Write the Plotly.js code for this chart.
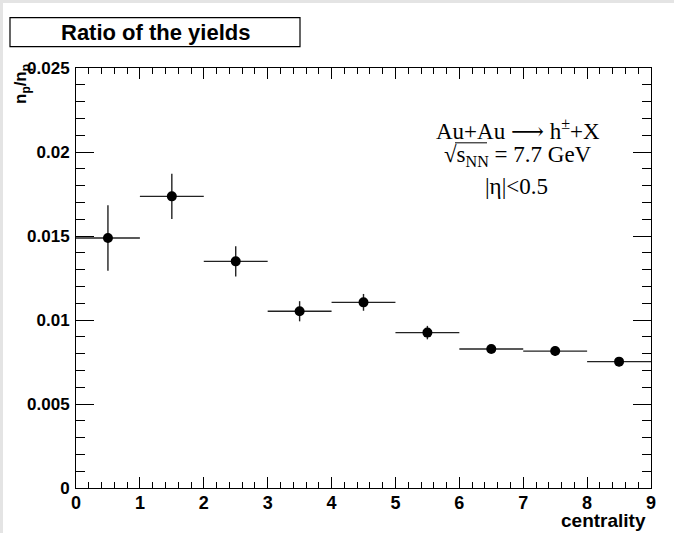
<!DOCTYPE html>
<html>
<head>
<meta charset="utf-8">
<script src="https://cdn.plot.ly/plotly-3.0.1.min.js"></script>
<style>
  html, body { margin: 0; padding: 0; background: #ffffff; }
  #chart { width: 674px; height: 533px; }
  .edgeL { position: absolute; left: 0; top: 0; width: 3px; height: 533px; background: #e4e4e4; z-index: 5; }
  .edgeT { position: absolute; left: 0; top: 0; width: 674px; height: 3px; background: #e4e4e4; z-index: 5; }
</style>
</head>
<body>
<div id="chart"></div>
<div class="edgeL"></div>
<div class="edgeT"></div>
<script>
// Data
const centrality = [0.5, 1.5, 2.5, 3.5, 4.5, 5.5, 6.5, 7.5, 8.5];
const ratio = [0.01488, 0.01736, 0.01349, 0.01052, 0.01105, 0.00925, 0.00827, 0.00815, 0.00752];
const ratioErr = [0.00195, 0.00135, 0.0009, 0.0006, 0.0005, 0.0004, 0.0002, 0.0003, 0.00027];
const binHalfWidth = [0.5, 0.5, 0.5, 0.5, 0.5, 0.5, 0.5, 0.5, 0.5];

const W = 575, H = 421;   // plot area size in px
const px = v => v / W;
const py = v => (488.5 - v) / H;

const trace = {
  x: centrality,
  y: ratio,
  type: 'scatter',
  mode: 'markers',
  marker: {color: '#000', size: 10, symbol: 'circle'},
  error_y: {type: 'data', array: ratioErr, visible: true, width: 0, thickness: 1.4, color: '#222'},
  error_x: {type: 'data', array: binHalfWidth, visible: true, width: 0, thickness: 1.4, color: '#222'},
  hoverinfo: 'x+y'
};

const serif = 'Liberation Serif, Times New Roman, serif';
const sans = 'Liberation Sans, Arial, sans-serif';

const layout = {
  width: 674,
  height: 533,
  margin: {l: 76, r: 23, t: 67.5, b: 44.5, pad: 0},
  paper_bgcolor: '#ffffff',
  plot_bgcolor: '#ffffff',
  showlegend: false,
  xaxis: {
    range: [0, 9],
    dtick: 1,
    tick0: 0,
    ticks: 'inside',
    ticklen: 11,
    tickwidth: 1,
    tickcolor: '#000',
    minor: {dtick: 0.2, ticks: 'inside', ticklen: 6, tickwidth: 1, tickcolor: '#000'},
    showline: true,
    linecolor: '#000',
    linewidth: 1,
    mirror: 'ticks',
    showgrid: false,
    zeroline: false,
    tickfont: {family: sans, size: 18, color: '#000', weight: 'bold'},
    ticklabelstandoff: -2
  },
  yaxis: {
    range: [0, 0.025],
    dtick: 0.005,
    tick0: 0,
    ticks: 'inside',
    ticklen: 18,
    tickwidth: 1,
    tickcolor: '#000',
    minor: {dtick: 0.001, ticks: 'inside', ticklen: 9, tickwidth: 1, tickcolor: '#000'},
    showline: true,
    linecolor: '#000',
    linewidth: 1,
    mirror: 'ticks',
    showgrid: false,
    zeroline: false,
    tickfont: {family: sans, size: 17, color: '#000', weight: 'bold'},
    ticklabelstandoff: 2
  },
  shapes: [
    {type: 'rect', xref: 'paper', yref: 'paper', x0: px(-66), x1: px(224), y0: 1 + 21.5 / H, y1: 1 + 50.5 / H,
     line: {color: '#000', width: 1.2}, fillcolor: '#ffffff'},
    // radical bar over s_NN
    {type: 'line', xref: 'paper', yref: 'paper', x0: px(455 - 76), x1: px(487 - 76), y0: py(142.5), y1: py(142.5),
     line: {color: '#000', width: 1}}
  ],
  annotations: [
    {text: '<b>Ratio of the yields</b>', xref: 'paper', yref: 'paper', x: px(79), y: 1 + 36 / H,
     xanchor: 'center', yanchor: 'middle', showarrow: false,
     font: {family: sans, size: 22, color: '#000'}},
    {text: '<b>n<sub>p</sub>/n<sub>p</sub></b>', xref: 'paper', yref: 'paper', x: px(-54), y: 1 + 6 / H,
     xanchor: 'center', yanchor: 'top', textangle: -90, showarrow: false,
     font: {family: sans, size: 17, color: '#000'}},
    {text: '<b>centrality</b>', xref: 'paper', yref: 'paper', x: px(572), y: py(521),
     xanchor: 'right', yanchor: 'middle', showarrow: false,
     font: {family: sans, size: 19, color: '#000'}},
    {text: 'Au+Au <span style="font-family:DejaVu Serif">\u27F6</span> h<sup>\u00b1</sup>+X', xref: 'paper', yref: 'paper', x: px(518 - 76), y: py(129),
     xanchor: 'center', yanchor: 'middle', showarrow: false,
     font: {family: serif, size: 23, color: '#000'}},
    {text: '\u221As<sub>NN</sub> = 7.7 GeV', xref: 'paper', yref: 'paper', x: px(518 - 76), y: py(156),
     xanchor: 'center', yanchor: 'middle', showarrow: false,
     font: {family: serif, size: 23, color: '#000'}},
    {text: '|\u03B7|<0.5', xref: 'paper', yref: 'paper', x: px(516 - 76), y: py(186),
     xanchor: 'center', yanchor: 'middle', showarrow: false,
     font: {family: serif, size: 23, color: '#000'}}
  ]
};

Plotly.newPlot('chart', [trace], layout, {displayModeBar: false, staticPlot: true});
</script>
</body>
</html>
